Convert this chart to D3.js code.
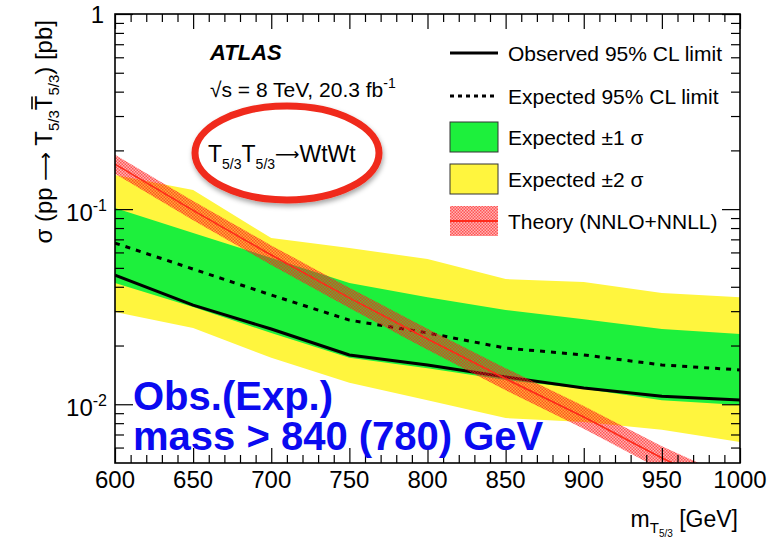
<!DOCTYPE html>
<html>
<head>
<meta charset="utf-8">
<script src="https://cdn.jsdelivr.net/npm/d3@7"></script>
<style>
  body { margin: 0; background: #fff; }
  text { font-family: "Liberation Sans", Arial, Helvetica, sans-serif; }
</style>
</head>
<body>
<svg width="782" height="543"></svg>
<script>
// masses in GeV, cross sections in pb
var masses   = [600, 650, 700, 750, 800, 850, 900, 950, 1000];
var observed = [0.0459, 0.0322, 0.0243, 0.0179, 0.0159, 0.0138, 0.0121, 0.0110, 0.0105];
var expected = [0.0670, 0.0493, 0.0363, 0.0270, 0.0232, 0.0194, 0.0179, 0.0159, 0.0150];
var sig1Up   = [0.1013, 0.0754, 0.0562, 0.0418, 0.0354, 0.0304, 0.0273, 0.0243, 0.0229];
var sig1Down = [0.0418, 0.0315, 0.0232, 0.0173, 0.0153, 0.0133, 0.0120, 0.0105, 0.0099];
var sig2Up   = [0.1495, 0.1253, 0.0711, 0.0632, 0.0555, 0.0438, 0.0423, 0.0372, 0.0354];
var sig2Down = [0.0297, 0.0246, 0.0173, 0.0129, 0.0105, 0.0085, 0.0081, 0.0074, 0.0064];
var theory     = [0.170, 0.0985, 0.0582, 0.0351, 0.0216, 0.0135, 0.0086, 0.0053, 0.00345];
var theoryUp   = [0.190, 0.110, 0.0652, 0.0395, 0.0244, 0.0153, 0.0098, 0.0061, 0.0040];
var theoryDown = [0.152, 0.0878, 0.0517, 0.0311, 0.0190, 0.0118, 0.0075, 0.0046, 0.0030];

var xTickLabels = [600, 650, 700, 750, 800, 850, 900, 950, 1000];
var yTickValues = [1, 0.1, 0.01];
var yTickExps   = [null, "-1", "-2"];
var yMinor = [0.006, 0.007, 0.008, 0.009, 0.02, 0.03, 0.04, 0.05, 0.06, 0.07, 0.08, 0.09,
              0.2, 0.3, 0.4, 0.5, 0.6, 0.7, 0.8, 0.9];
var xMinor = d3.range(610, 1000, 10).filter(function(m){ return m % 50 !== 0; });

var legendLabels = ["Observed 95% CL limit", "Expected 95% CL limit", "Expected \u00b11 \u03c3",
                    "Expected \u00b12 \u03c3", "Theory (NNLO+NNLL)"];

var svg = d3.select("svg");
var L = 115, R = 740, T = 14, B = 463;

var x = d3.scaleLinear().domain([600, 1000]).range([L, R]);
var y = d3.scaleLog().domain([0.005, 1]).range([B, T]);

var defs = svg.append("defs");
defs.append("clipPath").attr("id", "plotclip")
  .append("rect").attr("x", L).attr("y", T).attr("width", R - L).attr("height", B - T);
var pat = defs.append("pattern").attr("id", "hatch").attr("width", 3).attr("height", 3)
  .attr("patternUnits", "userSpaceOnUse");
pat.append("rect").attr("width", 3).attr("height", 3).attr("fill", "rgba(255,40,40,0.35)");
pat.append("rect").attr("width", 1.5).attr("height", 1.5).attr("fill", "rgba(255,20,20,0.6)");
pat.append("rect").attr("x", 1.5).attr("y", 1.5).attr("width", 1.5).attr("height", 1.5)
  .attr("fill", "rgba(255,20,20,0.6)");
var shadow = defs.append("filter").attr("id", "shadow").attr("x", "-20%").attr("y", "-20%")
  .attr("width", "140%").attr("height", "150%");
shadow.append("feDropShadow").attr("dx", 1).attr("dy", 3).attr("stdDeviation", 2.5)
  .attr("flood-color", "#000").attr("flood-opacity", 0.35);

var idx = d3.range(masses.length);
function band(up, down) {
  return d3.area().x(function(i){ return x(masses[i]); })
    .y0(function(i){ return y(down[i]); }).y1(function(i){ return y(up[i]); })(idx);
}
function line(vals) {
  return d3.line().x(function(i){ return x(masses[i]); }).y(function(i){ return y(vals[i]); })(idx);
}

var plot = svg.append("g").attr("clip-path", "url(#plotclip)");
plot.append("path").attr("d", band(sig2Up, sig2Down)).attr("fill", "#fff53e");
plot.append("path").attr("d", band(sig1Up, sig1Down)).attr("fill", "#1df03c");
plot.append("path").attr("d", line(expected)).attr("fill", "none").attr("stroke", "#000")
  .attr("stroke-width", 3).attr("stroke-dasharray", "5,6");
plot.append("path").attr("d", line(observed)).attr("fill", "none").attr("stroke", "#000")
  .attr("stroke-width", 3);
plot.append("path").attr("d", band(theoryUp, theoryDown)).attr("fill", "url(#hatch)");
plot.append("path").attr("d", line(theory)).attr("fill", "none").attr("stroke", "#ff2a1a")
  .attr("stroke-width", 1.6);

// axes: ticks inward on all four sides
function noDomain(g) { g.select(".domain").remove(); g.selectAll("text").remove(); }
svg.append("g").attr("transform", "translate(0," + B + ")")
  .call(d3.axisBottom(x).tickValues(xTickLabels).tickSize(-15)).call(noDomain);
svg.append("g").attr("transform", "translate(0," + B + ")")
  .call(d3.axisBottom(x).tickValues(xMinor).tickSize(-8)).call(noDomain);
svg.append("g").attr("transform", "translate(0," + T + ")")
  .call(d3.axisTop(x).tickValues(xTickLabels).tickSize(-15)).call(noDomain);
svg.append("g").attr("transform", "translate(0," + T + ")")
  .call(d3.axisTop(x).tickValues(xMinor).tickSize(-8)).call(noDomain);
svg.append("g").attr("transform", "translate(" + L + ",0)")
  .call(d3.axisLeft(y).tickValues(yTickValues).tickSize(-18)).call(noDomain);
svg.append("g").attr("transform", "translate(" + L + ",0)")
  .call(d3.axisLeft(y).tickValues(yMinor).tickSize(-9)).call(noDomain);
svg.append("g").attr("transform", "translate(" + R + ",0)")
  .call(d3.axisRight(y).tickValues(yTickValues).tickSize(-18)).call(noDomain);
svg.append("g").attr("transform", "translate(" + R + ",0)")
  .call(d3.axisRight(y).tickValues(yMinor).tickSize(-9)).call(noDomain);
svg.selectAll(".tick line").attr("stroke", "#000").attr("stroke-width", 1.2);
svg.append("rect").attr("x", L).attr("y", T).attr("width", R - L).attr("height", B - T)
  .attr("fill", "none").attr("stroke", "#000").attr("stroke-width", 1.6);

// tick labels
svg.selectAll(".xlab").data(xTickLabels).enter().append("text")
  .attr("x", function(d){ return x(d); }).attr("y", 488)
  .attr("text-anchor", "middle").attr("font-size", 24).text(function(d){ return d; });
yTickValues.forEach(function(v, i) {
  var t = svg.append("text").attr("text-anchor", "end").attr("font-size", 24);
  if (yTickExps[i] === null) {
    t.attr("x", 104).attr("y", y(v) + 9).text(v);
  } else {
    t.attr("x", 107).attr("y", y(v) + 12);
    t.append("tspan").text("10");
    t.append("tspan").attr("font-size", 16).attr("dy", -10).text(yTickExps[i]);
  }
});

// axis titles
var arrowFont = "'DejaVu Sans', sans-serif";
var yt = svg.append("g").attr("transform", "translate(52,20) rotate(-90)");
var ytext = yt.append("text").attr("text-anchor", "end").attr("font-size", 24);
ytext.append("tspan").text("\u03c3 (pp ");
ytext.append("tspan").attr("font-family", arrowFont).attr("font-size", 20).text("\u27f6");
ytext.append("tspan").text(" T");
ytext.append("tspan").attr("font-size", 15).attr("dy", 7).text("5/3");
ytext.append("tspan").attr("dy", -7).text("T");
ytext.append("tspan").attr("font-size", 15).attr("dy", 7).text("5/3");
ytext.append("tspan").attr("dy", -7).text(") [pb]");
var tb = ytext.node();
var s0 = tb.getStartPositionOfChar(12), e0 = tb.getEndPositionOfChar(12);
yt.append("line").attr("x1", s0.x + 1).attr("x2", e0.x - 1)
  .attr("y1", s0.y - 20).attr("y2", s0.y - 20).attr("stroke", "#000").attr("stroke-width", 1.6);

var xt = svg.append("text").attr("x", 738).attr("y", 527).attr("text-anchor", "end").attr("font-size", 23);
xt.append("tspan").text("m");
xt.append("tspan").attr("font-size", 15).attr("dy", 6).text("T");
xt.append("tspan").attr("font-size", 10).attr("dy", 4).text("5/3");
xt.append("tspan").attr("dy", -10).text(" [GeV]");

// ATLAS labels
svg.append("text").attr("x", 210).attr("y", 60).attr("font-size", 22)
  .attr("font-weight", "bold").attr("font-style", "italic").text("ATLAS");
var en = svg.append("text").attr("x", 210).attr("y", 97).attr("font-size", 21);
en.append("tspan").text("\u221as = 8 TeV, 20.3 fb");
en.append("tspan").attr("font-size", 14).attr("dy", -9).text("-1");

// legend
var lg = svg.append("g");
var rowY = [53, 96, 137, 179, 221];
lg.append("line").attr("x1", 450).attr("x2", 498).attr("y1", rowY[0]).attr("y2", rowY[0])
  .attr("stroke", "#000").attr("stroke-width", 3);
lg.append("line").attr("x1", 450).attr("x2", 498).attr("y1", rowY[1]).attr("y2", rowY[1])
  .attr("stroke", "#000").attr("stroke-width", 3).attr("stroke-dasharray", "4,4");
lg.append("rect").attr("x", 450).attr("y", rowY[2] - 15).attr("width", 48).attr("height", 30)
  .attr("fill", "#1df03c").attr("stroke", "#333").attr("stroke-width", 1);
lg.append("rect").attr("x", 450).attr("y", rowY[3] - 15).attr("width", 48).attr("height", 30)
  .attr("fill", "#fff53e").attr("stroke", "#333").attr("stroke-width", 1);
lg.append("rect").attr("x", 450).attr("y", rowY[4] - 15).attr("width", 48).attr("height", 30)
  .attr("fill", "url(#hatch)");
lg.append("line").attr("x1", 450).attr("x2", 498).attr("y1", rowY[4]).attr("y2", rowY[4])
  .attr("stroke", "#ff2a1a").attr("stroke-width", 2);
lg.selectAll(".ltxt").data(legendLabels).enter().append("text")
  .attr("x", 508).attr("y", function(d, i){ return rowY[i] + 8; })
  .attr("font-size", 21).text(function(d){ return d; });

// red ellipse annotation
svg.append("ellipse").attr("cx", 287).attr("cy", 153).attr("rx", 92).attr("ry", 47)
  .attr("fill", "#fff").attr("stroke", "#f02a1a").attr("stroke-width", 7)
  .attr("filter", "url(#shadow)");
var dk = svg.append("text").attr("x", 208).attr("y", 162).attr("font-size", 23);
dk.append("tspan").text("T");
dk.append("tspan").attr("font-size", 14).attr("dy", 7).text("5/3");
dk.append("tspan").attr("dy", -7).text("T");
dk.append("tspan").attr("font-size", 14).attr("dy", 7).text("5/3");
dk.append("tspan").attr("dy", -9).attr("font-family", arrowFont).attr("font-size", 17).text("\u27f6");
dk.append("tspan").attr("dy", 2).text("WtWt");

// mass limit note
svg.append("text").attr("x", 133).attr("y", 410).attr("font-size", 40).attr("font-weight", "bold")
  .attr("fill", "#0a0af0").text("Obs.(Exp.)");
svg.append("text").attr("x", 133).attr("y", 450).attr("font-size", 40).attr("font-weight", "bold")
  .attr("fill", "#0a0af0").text("mass > 840 (780) GeV");
</script>
</body>
</html>
